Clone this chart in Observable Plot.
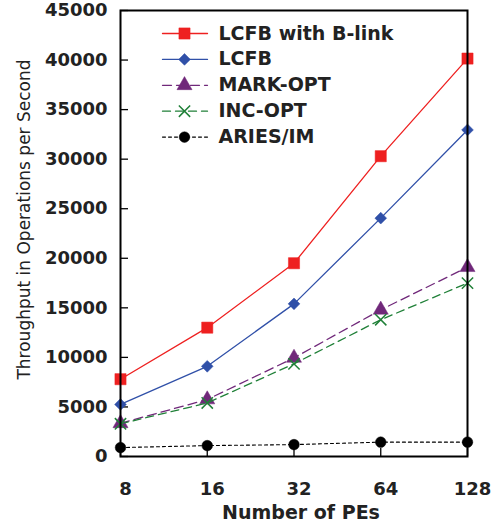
<!DOCTYPE html>
<html>
<head>
<meta charset="utf-8">
<script src="https://cdn.jsdelivr.net/npm/d3@7"></script>
<script src="https://cdn.jsdelivr.net/npm/@observablehq/plot@0.6"></script>
<style>
  html, body { margin: 0; padding: 0; background: #fff; }
  #chart svg { display: block; }
</style>
</head>
<body>
<div id="chart"></div>
<script>
// ---- data ----
const pes = [8, 16, 32, 64, 128];
const seriesNames = ["LCFB with B-link", "LCFB", "MARK-OPT", "INC-OPT", "ARIES/IM"];
const blinkValues = [7800, 13000, 19500, 30300, 40150];
const lcfbValues = [5250, 9100, 15400, 24050, 32950];
const markOptValues = [3350, 5750, 9950, 14800, 19100];
const incOptValues = [3300, 5400, 9350, 13800, 17500];
const ariesValues = [900, 1100, 1200, 1450, 1450];
const yTicks = [0, 5000, 10000, 15000, 20000, 25000, 30000, 35000, 40000, 45000];
const xLabel = "Number of PEs";
const yLabel = "Throughput in Operations per Second";

// ---- styles ----
const styles = [
  {color: "#ee2020", symbol: "square", r: 6.3, dash: null, width: 1.3, fill: true},
  {color: "#3050a8", symbol: "diamond2", r: 5.3, dash: null, width: 1.3, fill: true},
  {color: "#70287a", symbol: "triangle", r: 5.6, dash: "9,5", width: 1.3, fill: true},
  {color: "#208038", symbol: "times", r: 5.2, dash: "8,5", width: 1.3, fill: false},
  {color: "#000000", symbol: "circle", r: 5.3, dash: "3,3", width: 1.1, fill: true}
];
const allValues = [blinkValues, lcfbValues, markOptValues, incOptValues, ariesValues];

const W = 499, H = 530;
const mL = 120, mR = 32, mT = 10, mB = 74;
const xDomain = [8, 128], yDomain = [0, 45000];

// pixel -> data helpers for the in-plot legend
const xs = d3.scaleLog().base(2).domain(xDomain).range([mL, W - mR]);
const ys = d3.scaleLinear().domain(yDomain).range([H - mB, mT]);

const font = "DejaVu Sans";
const marks = [];

allValues.forEach((vals, i) => {
  const s = styles[i];
  const rows = pes.map((p, j) => ({pe: p, v: vals[j]}));
  marks.push(Plot.line(rows, {x: "pe", y: "v", stroke: s.color, strokeWidth: s.width, strokeDasharray: s.dash}));
  marks.push(Plot.dot(rows, {x: "pe", y: "v", symbol: () => s.symbol, r: s.r,
    fill: s.fill ? s.color : "none", stroke: s.color, strokeWidth: s.fill ? 0.5 : 1.5}));
});

// legend
seriesNames.forEach((name, i) => {
  const s = styles[i];
  const yv = ys.invert(33 + 25.9 * i);
  const seg = [{x: xs.invert(162), y: yv}, {x: xs.invert(207), y: yv}];
  marks.push(Plot.line(seg, {x: "x", y: "y", stroke: s.color, strokeWidth: s.width, strokeDasharray: s.dash}));
  marks.push(Plot.dot([{x: xs.invert(184), y: yv}], {x: "x", y: "y", symbol: () => s.symbol, r: s.r,
    fill: s.fill ? s.color : "none", stroke: s.color, strokeWidth: s.fill ? 0.5 : 1.5}));
  marks.push(Plot.text([{x: xs.invert(218), y: yv, t: name}], {x: "x", y: "y", text: "t",
    textAnchor: "start", fontSize: 19, fontWeight: "bold", fill: "#222", fontFamily: font}));
});

const chart = Plot.plot({
  width: W, height: H,
  marginLeft: mL, marginRight: mR, marginTop: mT, marginBottom: mB,
  style: {fontFamily: font, background: "#fff", color: "#222"},
  x: {type: "log", base: 2, domain: xDomain, axis: null},
  y: {domain: yDomain, axis: null},
  marks: [
    // inward ticks
    Plot.axisY(yTicks, {tickSize: 8, dx: 8, tickFormat: () => "", stroke: "#000", strokeWidth: 1.3, label: null}),
    Plot.axisX(pes, {tickSize: 8, dy: -8, tickFormat: () => "", stroke: "#000", strokeWidth: 1.3, label: null}),
    // tick labels
    Plot.axisY(yTicks, {tickSize: 0, tickPadding: 13, fontSize: 18, fontWeight: "bold", fill: "#222", label: null, tickFormat: d => String(d)}),
    Plot.axisX(pes, {tickSize: 0, tickPadding: 26, dx: 5, fontSize: 18, fontWeight: "bold", fill: "#222", label: null, tickFormat: d => String(d)}),
    // axis titles
    Plot.text([yLabel], {frameAnchor: "left", textAnchor: "middle", text: d => d, rotate: -90, dx: -96, dy: -14, fontSize: 17, fill: "#222"}),
    Plot.text([xLabel], {frameAnchor: "bottom", textAnchor: "middle", text: d => d, dy: 62, dx: 7, fontSize: 19, fontWeight: "bold", fill: "#222"}),
    ...marks,
    Plot.frame({stroke: "#000", strokeWidth: 2})
  ]
});
document.getElementById("chart").appendChild(chart);
</script>
</body>
</html>
